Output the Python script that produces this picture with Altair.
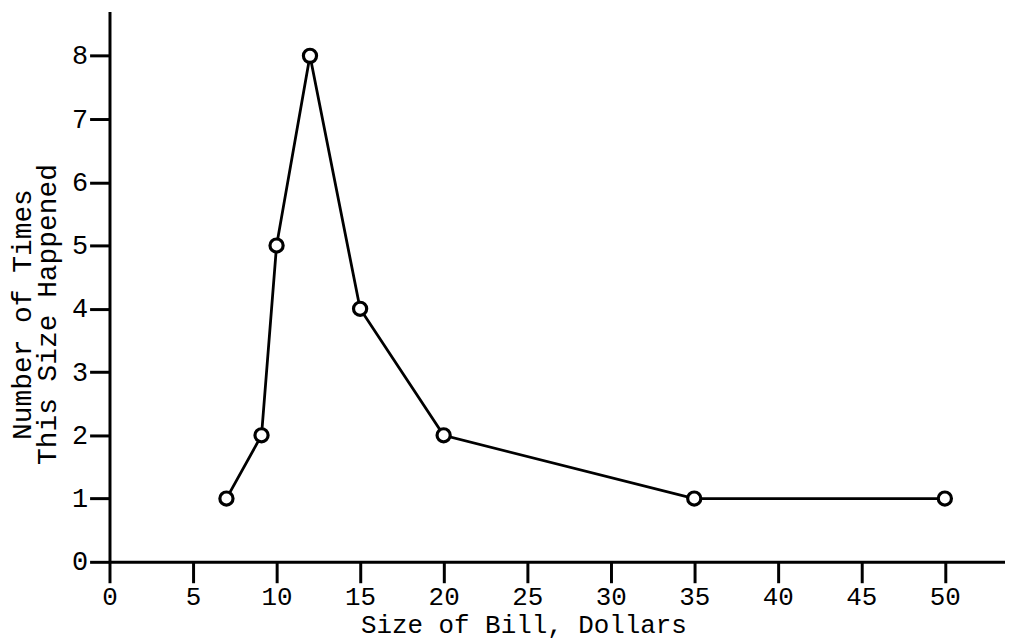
import altair as alt
import pandas as pd

bill_size = [7, 9.1, 10, 12, 15, 20, 35, 50]
times = [1, 2, 5, 8, 4, 2, 1, 1]
x_ticks = [0, 5, 10, 15, 20, 25, 30, 35, 40, 45, 50]
y_ticks = [0, 1, 2, 3, 4, 5, 6, 7, 8]

df = pd.DataFrame({"bill": bill_size, "times": times})

FONT = "Liberation Mono"

x_enc = alt.X(
    "bill:Q",
    scale=alt.Scale(domain=[0, 53.6], nice=False, zero=False),
    axis=alt.Axis(
        values=x_ticks,
        format="d",
        title="Size of Bill, Dollars",
        titleX=416,
        titleY=71,
        titleAnchor="start",
        titleAlign="center",
        titleBaseline="alphabetic",
        titleFont=FONT,
        titleFontSize=26,
        titleFontWeight="normal",
        titleColor="black",
        labelFont=FONT,
        labelFontSize=26,
        labelColor="black",
        labelPadding=1,
        tickSize=21,
        tickWidth=3,
        tickColor="black",
        domainWidth=3,
        domainColor="black",
        grid=False,
        labelFlush=False,
        labelOverlap=False,
    ),
)

y_enc = alt.Y(
    "times:Q",
    scale=alt.Scale(domain=[0, 8.7], nice=False),
    axis=alt.Axis(
        values=y_ticks,
        format="d",
        title=["Number of Times", "This Size Happened"],
        titleX=-101,
        titleY=304,
        titleAngle=-90,
        titleAlign="center",
        titleBaseline="top",
        titleLineHeight=25,
        titleFont=FONT,
        titleFontSize=28,
        titleFontWeight="normal",
        titleColor="black",
        labelFont=FONT,
        labelFontSize=27,
        labelColor="black",
        labelPadding=2,
        tickSize=20,
        tickWidth=3,
        tickColor="black",
        domainWidth=3,
        domainColor="black",
        grid=False,
        labelFlush=False,
        labelOverlap=False,
    ),
)

line = alt.Chart(df).mark_line(color="black", strokeWidth=2.8).encode(x=x_enc, y=y_enc)
points = alt.Chart(df).mark_point(
    shape="circle", size=175, filled=True, fill="white", stroke="black", strokeWidth=3.2, opacity=1
).encode(x="bill:Q", y="times:Q")

chart = (
    alt.layer(line, points)
    .properties(
        width=900,
        height=553,
        autosize=alt.AutoSizeParams(type="none"),
        padding={"left": 102, "top": 2, "right": 0, "bottom": 82},
        view=alt.ViewBackground(stroke="transparent", strokeWidth=0),
    )
    .configure_view(strokeWidth=0, stroke="transparent", strokeOpacity=0)
    .configure(background="white")
)

chart.save("out.html", embed_options={"renderer": "svg", "actions": False})
